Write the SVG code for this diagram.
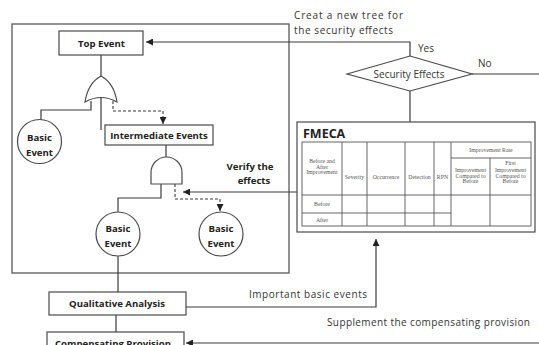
<svg xmlns="http://www.w3.org/2000/svg" width="539" height="345" viewBox="0 0 539 345">
  <style>
    .ln { fill: none; stroke: #3a3a3a; stroke-width: 1.2; }
    .dash { fill: none; stroke: #3a3a3a; stroke-width: 1.1; stroke-dasharray: 3 2; }
    .box { fill: #fff; stroke: #4a4a4a; stroke-width: 1.2; }
    .gate { fill: #fff; stroke: #4a4a4a; stroke-width: 1.2; }
    .b { font-family: "Open Sans", "Liberation Sans", sans-serif; font-weight: bold; font-size: 9.6px; fill: #222; text-anchor: middle; }
    .t { font-family: "Open Sans", "Liberation Sans", sans-serif; font-size: 10px; fill: #333; }
    .tb { font-family: "Liberation Serif", serif; font-size: 5.8px; fill: #555; text-anchor: middle; }
    .grid { fill: none; stroke: #555; stroke-width: 0.9; }
  </style>
  <defs>
    <marker id="ah" viewBox="0 0 10 10" refX="10" refY="5" markerWidth="7" markerHeight="7" markerUnits="userSpaceOnUse" orient="auto">
      <path d="M0,0 L10,5 L0,10 Z" fill="#222"/>
    </marker>
  </defs>

  <rect width="539" height="345" fill="#fff"/>

  <!-- fault tree frame -->
  <g id="fault-tree-frame">
    <rect x="12" y="24" width="277" height="249" class="box" fill="none"/>
  </g>

  <!-- connectors -->
  <g id="connectors">
    <!-- Yes branch back to the top event -->
    <path d="M410,56 V42 H146" class="ln" marker-end="url(#ah)"/>
    <!-- No branch -->
    <path d="M472,74 H539" class="ln"/>
    <!-- decision down to FMECA -->
    <path d="M410,91 V122" class="ln"/>
    <!-- top event to OR gate -->
    <path d="M101,55 V76" class="ln"/>
    <!-- OR gate outputs -->
    <path d="M91,101 V110 H41 V120" class="ln"/>
    <path d="M101,97 V130" class="ln"/>
    <path d="M113,101 V111 H163 V124" class="dash" marker-end="url(#ah)"/>
    <!-- intermediate to AND gate -->
    <path d="M166,145 V157" class="ln"/>
    <!-- AND gate outputs -->
    <path d="M161,184 V198 H118 V212" class="ln"/>
    <path d="M175,184 V199 H220 V211" class="dash" marker-end="url(#ah)"/>
    <!-- verify the effects -->
    <path d="M297,192 H183" class="ln" marker-end="url(#ah)"/>
    <!-- basic event to qualitative analysis -->
    <path d="M118,256 V292" class="ln"/>
    <path d="M116,315 V332" class="ln"/>
    <!-- important basic events to FMECA -->
    <path d="M186,307 H376 V239" class="ln" marker-end="url(#ah)"/>
    <!-- supplement the compensating provision -->
    <path d="M539,343 H186" class="ln" marker-end="url(#ah)"/>
  </g>

  <!-- connector labels -->
  <g id="labels">
    <text class="t" x="294" y="19" textLength="109" lengthAdjust="spacing">Creat  a  new  tree for</text>
    <text class="t" x="294" y="34" textLength="99" lengthAdjust="spacing">the security effects</text>
    <text class="t" x="418" y="52">Yes</text>
    <text class="t" x="478" y="67">No</text>
    <text class="b" x="250" y="170" font-size="10">Verify  the</text>
    <text class="b" x="254" y="184" font-size="10">effects</text>
    <text class="t" x="249" y="298" textLength="118" lengthAdjust="spacing">Important basic events</text>
    <text class="t" x="327" y="326" textLength="203" lengthAdjust="spacing">Supplement the compensating provision</text>
  </g>

  <g id="top-event">
    <rect x="59" y="31" width="84" height="24" class="box"/>
    <text class="b" x="101.5" y="46.5">Top  Event</text>
  </g>

  <g id="or-gate">
    <path d="M101,76 Q114,83 117,102 Q101,93 85,102 Q88,83 101,76 Z" class="gate"/>
  </g>

  <g id="basic-event-1">
    <circle cx="39.5" cy="141.5" r="22" class="box"/>
    <text class="b" x="39.5" y="140.5">Basic</text>
    <text class="b" x="39.5" y="155.5">Event</text>
  </g>

  <g id="intermediate-events">
    <rect x="105" y="125" width="108" height="20" class="box"/>
    <text class="b" x="159" y="138.5">Intermediate Events</text>
  </g>

  <g id="and-gate">
    <path d="M151,184 V172.5 A15.5,15.5 0 0 1 182,172.5 V184 Z" class="gate"/>
  </g>

  <g id="basic-event-2">
    <circle cx="118" cy="234" r="22" class="box"/>
    <text class="b" x="118" y="232">Basic</text>
    <text class="b" x="118" y="246.5">Event</text>
  </g>

  <g id="basic-event-3">
    <circle cx="221" cy="234" r="22" class="box"/>
    <text class="b" x="221" y="232">Basic</text>
    <text class="b" x="221" y="246.5">Event</text>
  </g>

  <g id="security-effects">
    <polygon points="347,74 410,56 472,74 410,91" class="box"/>
    <text class="t" x="409" y="78" text-anchor="middle" font-size="10.5">Security Effects</text>
  </g>

  <g id="fmeca">
    <rect x="297" y="122" width="238" height="110" class="box"/>
    <text x="303" y="138" font-family="'Open Sans', 'Liberation Sans', sans-serif" font-weight="bold" font-size="12.5" fill="#222">FMECA</text>
    <!-- table grid -->
    <rect x="302" y="142" width="229" height="84" class="grid"/>
    <path class="grid" d="M342,142 V226 M367,142 V226 M405,142 V226 M434,142 V226 M451,142 V226 M490,158 V226
                          M451,158 H531 M302,195 H531 M302,213 H451"/>
    <text class="tb" x="322" y="163">Before and</text>
    <text class="tb" x="322" y="168.5">After</text>
    <text class="tb" x="322" y="174">Improvement</text>
    <text class="tb" x="354.5" y="178.5">Severity</text>
    <text class="tb" x="386" y="178.5">Occurrence</text>
    <text class="tb" x="419.5" y="178.5">Detection</text>
    <text class="tb" x="442.5" y="178.5">RPN</text>
    <text class="tb" x="491" y="152">Improvement Rate</text>
    <text class="tb" x="470.5" y="172">Improvement</text>
    <text class="tb" x="470.5" y="177.5">Compared to</text>
    <text class="tb" x="470.5" y="183">Before</text>
    <text class="tb" x="510.5" y="165">First</text>
    <text class="tb" x="510.5" y="172">Improvement</text>
    <text class="tb" x="510.5" y="177.5">Compared to</text>
    <text class="tb" x="510.5" y="183">Before</text>
    <text class="tb" x="322" y="206">Before</text>
    <text class="tb" x="322" y="222">After</text>
  </g>

  <g id="qualitative-analysis">
    <rect x="49" y="292" width="137" height="23" class="box"/>
    <text class="b" x="117" y="306.5">Qualitative Analysis</text>
  </g>

  <g id="compensating-provision">
    <rect x="47" y="332" width="137" height="24" class="box"/>
    <text class="b" x="113" y="346.5">Compensating Provision</text>
  </g>
</svg>
